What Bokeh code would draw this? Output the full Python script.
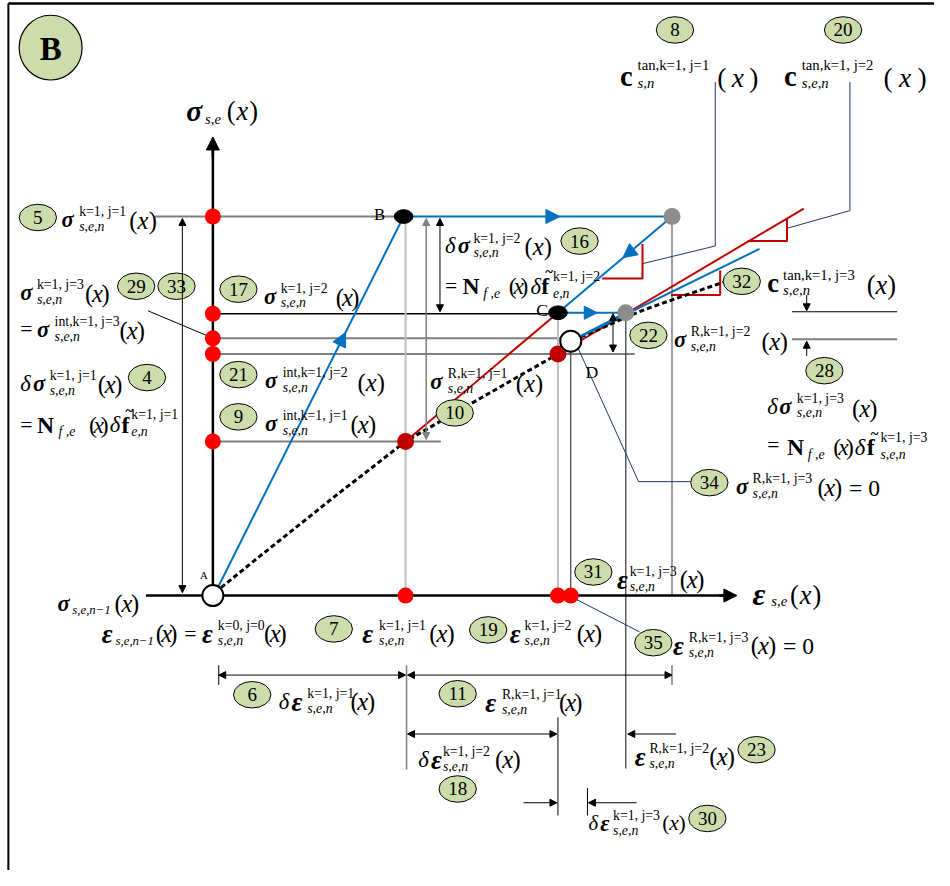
from bokeh.plotting import figure
from bokeh.models import Range1d, Arrow, NormalHead, ColumnDataSource
from bokeh.core.properties import value, field
from bokeh.embed import file_html
from bokeh.resources import INLINE

# ---------------- data (diagram units; y grows downward) ----------------
# material response curve (black dashed)
curve_strain = [218, 260, 300, 340, 380, 412, 450, 490, 530, 567, 580, 620, 637, 660, 700, 735]
curve_stress = [603, 569, 537, 505, 474, 449, 427, 404, 381, 360, 347, 330, 322, 313, 299, 287]
# iteration path A -> B -> G1 -> C -> G2 -> D (blue)
path_strain = [221, 410, 683, 567, 636, 580]
path_stress = [598, 220, 220, 318, 318, 347]
# tangent lines
tan_red_strain = [[412, 567], [567, 817]]
tan_red_stress = [[449, 318], [360, 212]]
tan_blue_strain = [580, 772]
tan_blue_stress = [347, 253]
# stress levels marked on the sigma axis
axis_stress_levels = [220, 319, 344, 360, 449]
# strain levels marked on the eps axis
axis_strain_levels = [412, 567, 580]
# points on curve
curve_pts_strain = [412, 567]
curve_pts_stress = [449, 360]
black_pts_strain = [410, 567]        # B, C
black_pts_stress = [220, 318]
gray_pts_strain = [683, 636]
gray_pts_stress = [220, 318]
open_pts_strain = [216, 580]         # A, D
open_pts_stress = [606, 347]
# numbered callouts
callout_ids = ["5", "29", "33", "17", "4", "21", "9", "10", "16", "22", "32", "28", "34",
               "8", "20", "7", "19", "31", "35", "6", "11", "18", "23", "30"]
callout_x = [38, 138, 179, 242, 149, 242, 242, 462, 589, 659, 754, 838, 721,
             686, 857, 339, 496, 603, 664, 256, 465, 465, 769, 719]
callout_y = [221, 291, 291, 294, 384, 381, 424, 420, 245, 341, 286, 377, 491,
             30, 30, 640, 641, 582, 654, 707, 706, 803, 763, 833]

GREEN = "#cddcab"
BLUE = "#0070c0"
RED = "#c00000"
NAVY = "#1f3864"
GRAY = "#7f7f7f"
LGRAY = "#bfbfbf"
FONT = "Liberation Serif"
SC = 934 / 950.0

p = figure(width=934, height=870, x_range=Range1d(0, 950), y_range=Range1d(886, 0),
           output_backend="svg", toolbar_location=None, min_border=0,
           x_axis_type=None, y_axis_type=None)
p.grid.visible = False
p.outline_line_color = None

def seg(xs, ys, color="black", w=1.0, dash="solid"):
    p.line(xs, ys, line_color=color, line_width=w, line_dash=dash)

def arrow(x0, y0, x1, y1, color="black", size=7, both=False, w=1.0):
    head = lambda: NormalHead(size=size, fill_color=color, line_color=color, line_width=1)
    p.add_layout(Arrow(x_start=x0, y_start=y0, x_end=x1, y_end=y1, end=head(),
                       start=head() if both else None, line_color=color, line_width=w))

# frame
seg([8, 8], [3, 886], "black", 2)
seg([8, 950], [3, 3], "black", 2.5)

# horizontal reference lines
seg([157, 410], [axis_stress_levels[0]] * 2, GRAY, 2)
seg([216, black_pts_strain[1]], [axis_stress_levels[1]] * 2, "black", 1.3)
seg([216, 576], [axis_stress_levels[2]] * 2, GRAY, 2)
seg([216, 645], [axis_stress_levels[3]] * 2, GRAY, 2)
seg([216, 448], [axis_stress_levels[4]] * 2, GRAY, 2)

# vertical reference lines
seg([axis_strain_levels[0]] * 2, [226, 606], LGRAY, 2)
seg([axis_strain_levels[1]] * 2, [324, 606], LGRAY, 2)
seg([axis_strain_levels[2]] * 2, [357, 606], "#404040", 1.2)
seg([gray_pts_strain[1]] * 2, [318, 782], "#333333", 1.2)
seg([gray_pts_strain[0]] * 2, [220, 606], GRAY, 1.5)
seg([gray_pts_strain[0]] * 2, [677, 697], GRAY, 1.5)
seg([413, 413], [677, 783], GRAY, 1.5)
seg([567, 567], [730, 830], "black", 1)
seg([597, 597], [802, 830], "black", 1)
seg([222, 222], [677, 697], "black", 1)

# right-hand small level lines
seg([805, 912], [317, 317], "black", 1)
seg([805, 912], [345, 345], GRAY, 2)

# dimension arrows
arrow(185, 603, 185, 222, both=True)
arrow(433, 447, 433, 222, color=GRAY, both=True, w=1.5)
arrow(447, 317, 447, 222, both=True)
arrow(623, 358, 623, 319, both=True)
arrow(222, 687, 412, 687, both=True)
arrow(414, 687, 683, 687, both=True)
arrow(414, 747, 566, 747, both=True)
arrow(820, 300, 820, 316)
arrow(820, 362, 820, 347)
arrow(532, 817, 566, 817)
arrow(647, 817, 598, 817)
arrow(687, 747, 638, 747)

# axes
seg([216, 216], [606, 150], "black", 2.5)
arrow(216, 160, 216, 139, size=13, w=2.5)
seg([148, 740], [606, 606], "black", 2.5)
arrow(730, 606, 749, 606, size=13, w=2.5)

# leaders
seg([727, 727, 653], [83, 250, 268], NAVY, 1)
seg([864, 864, 800], [83, 214, 232], NAVY, 1)
seg([587, 649, 702], [353, 490, 490], NAVY, 1)
seg([582, 650], [608, 643], NAVY, 1)
seg([150, 214], [316, 343], "black", 1)

# tangent triangles
seg([612, 653, 653], [283, 283, 248], RED, 2)
seg([760, 800, 800], [245, 245, 222], RED, 2)
seg([682, 732, 732], [300, 300, 275], RED, 2)

# curve and paths
for xs, ys in zip(tan_red_strain, tan_red_stress):
    seg(xs, ys, RED, 2)
seg(curve_strain, curve_stress, "black", 3, "5 3")
seg(path_strain, path_stress, BLUE, 2)
seg(tan_blue_strain, tan_blue_stress, BLUE, 2)

# mid-path arrow heads
arrow(345, 350, 351, 338, color=BLUE, size=14, w=2)
arrow(555, 220, 569, 220, color=BLUE, size=14, w=2)
arrow(642, 255, 633, 262, color=BLUE, size=14, w=2)
arrow(596, 318, 607, 318, color=BLUE, size=13, w=2)

# points
p.scatter([216] * len(axis_stress_levels), axis_stress_levels, size=16, fill_color="red", line_color=None)
p.scatter(axis_strain_levels, [606] * len(axis_strain_levels), size=16, fill_color="red", line_color=None)
p.scatter(curve_pts_strain, curve_pts_stress, size=17, fill_color=RED, line_color=None)
p.ellipse(black_pts_strain, black_pts_stress, width=19, height=14, fill_color="black", line_color="black")
p.scatter(gray_pts_strain, gray_pts_stress, size=17, fill_color="#8c8c8c", line_color=None)
p.scatter(open_pts_strain, open_pts_stress, size=21, fill_color="white", line_color="black", line_width=2)

# callouts
p.ellipse(callout_x, callout_y, width=38, height=27, fill_color=GREEN, line_color="black", line_width=1)
p.text(callout_x, callout_y, text=callout_ids, text_font=value(FONT), text_font_size="19px",
       text_align="center", text_baseline="middle", text_color="black")
p.ellipse([51], [48], width=64, height=66, fill_color=GREEN, line_color="black", line_width=1.2)
p.text([51], [49], text=["B"], text_font=value(FONT), text_font_size="33px", text_font_style="bold",
       text_align="center", text_baseline="middle")

# ---------------- math texts ----------------
groups = {"left": {}, "center": {}, "right": {}}
for g in groups.values():
    for k in ("x", "y", "text", "size", "style"):
        g[k] = []

def T(x, y, s, size=22, style="normal", align="left"):
    g = groups[align]
    g["x"].append(x); g["y"].append(y); g["text"].append(s)
    g["size"].append(f"{size * SC:.1f}px"); g["style"].append(style)

def X(x0, x1, y, size=25):
    T(x0 + 1, y, "(", size)
    T((x0 + x1) / 2, y, "x", size, "italic", "center")
    T(x1 - 1, y, ")", size, "normal", "right")

def S(x, y, base, sx, sup=None, sub=None, size=None, style="bold italic", sup_dy=-8, sub_dy=7, ssize=14):
    if size is None:
        size = 27 if base == "ε" else 23
    T(x, y, base, size, style)
    if sup:
        T(sx, y + sup_dy, sup, ssize)
    if sub:
        T(sx, y + sub_dy, sub, ssize, "italic")

def NF(x, y, xs_sub, x0, x1, xd, xf, xsup, sup, sub2, size=23):
    T(x, y, "N", 24, "bold")
    T(xs_sub, y + 7, "f ,e", 14, "italic")
    X(x0, x1, y, 24)
    T(xd, y, "δ", size, "italic")
    T(xf, y, "f", 24, "bold")
    T(xf + 8, y - 14, "~", 15, "bold", "center")
    T(xsup, y - 10, sup, 14)
    T(xsup, y + 7, sub2, 14, "italic")

# axis titles
S(189, 113, "σ", 208, sub="s,e", size=30, sub_dy=8, ssize=15); X(229, 263, 113, 27)
S(765, 605, "ε", 784, sub="s,e", size=32, sub_dy=7, ssize=15); X(802, 836, 605, 27)

S(62, 223, "σ", 80, "k=1, j=1", "s,e,n"); X(130, 160, 224)
S(20, 297, "σ", 37, "k=1, j=3", "s,e,n"); X(85, 112, 298)
T(20, 335, "="); S(37, 335, "σ", 55, "int,k=1, j=3", "s,e,n"); X(120, 148, 336)
T(20, 390, "δ", 23, "italic"); S(33, 390, "σ", 50, "k=1, j=1", "s,e,n"); X(98, 125, 391)
T(20, 432, "="); NF(37, 432, 59, 89, 111, 111, 123, 133, "k=1, j=1", "e,n")
S(268, 301, "σ", 285, "k=1, j=2", "s,e,n"); X(340, 366, 302)
S(269, 387, "σ", 287, "int,k=1, j=2", "s,e,n"); X(362, 392, 389)
S(269, 431, "σ", 287, "int,k=1, j=1", "s,e,n"); X(355, 383, 432)
S(437, 388, "σ", 455, "R,k=1, j=1", "s,e,n"); X(523, 553, 390)
T(452, 250, "δ", 23, "italic"); S(465, 250, "σ", 481, "k=1, j=2", "s,e,n"); X(532, 562, 251)
T(452, 291, "="); NF(470, 291, 491, 516, 538, 539, 550, 562, "k=1, j=2", "e,n")
S(685, 345, "σ", 702, "R,k=1, j=2", "s,e,n"); X(773, 802, 347)
S(780, 288, "c", 796, "tan,k=1, j=3", "s,e,n", size=27, style="bold", ssize=15); X(880, 912, 290, 27)
T(780, 413, "δ", 23, "italic"); S(792, 413, "σ", 810, "k=1, j=3", "s,e,n"); X(865, 893, 415)
T(780, 453, "="); NF(800, 455, 821, 846, 869, 869, 881, 895, "k=1, j=3", "s,e,n")
S(748, 495, "σ", 765, "R,k=1, j=3", "s,e,n"); X(830, 857, 496); T(863, 496, "= 0", 24)
S(630, 77, "c", 648, "tan,k=1, j=1", "s,n", size=29, style="bold", sup_dy=-11, ssize=15); X(728, 772, 78, 28)
S(797, 77, "c", 815, "tan,k=1, j=2", "s,e,n", size=29, style="bold", sup_dy=-11, ssize=15); X(897, 943, 78, 28)
S(58, 614, "σ", 73, None, "s,e,n−1", ssize=13); X(115, 142, 614)
S(103, 645, "ε", 117, None, "s,e,n−1", ssize=13); X(157, 181, 645); T(187, 645, "=")
S(205, 645, "ε", 221, "k=0, j=0", "s,e,n"); X(267, 292, 645)
S(368, 645, "ε", 385, "k=1, j=1", "s,e,n"); X(435, 463, 645)
S(518, 645, "ε", 533, "k=1, j=2", "s,e,n"); X(585, 613, 645)
S(627, 590, "ε", 640, "k=1, j=3", "s,e,n"); X(690, 717, 590)
S(684, 657, "ε", 700, "R,k=1, j=3", "s,e,n"); X(762, 790, 657); T(796, 657, "= 0", 24)
T(283, 714, "δ", 23, "italic"); S(296, 714, "ε", 312, "k=1, j=1", "s,e,n"); X(355, 382, 714)
S(493, 715, "ε", 510, "R,k=1, j=1", "s,e,n"); X(567, 593, 715)
T(425, 773, "δ", 23, "italic"); S(438, 773, "ε", 450, "k=1, j=2", "s,e,n"); X(502, 530, 773)
S(645, 770, "ε", 660, "R,k=1, j=2", "s,e,n"); X(720, 748, 770)
T(598, 838, "δ", 21, "italic"); S(610, 838, "ε", 623, "k=1, j=3", "s,e,n", size=23, ssize=14); X(672, 698, 838, 22)

# point labels
T(203, 585, "A", 11)
T(380, 218, "B", 17)
T(545, 315, "C", 18)
T(595, 378, "D", 18)

for align, g in groups.items():
    if not g["x"]:
        continue
    src = ColumnDataSource(data=g)
    p.text("x", "y", text="text", source=src, text_font=value(FONT), text_font_size=field("size"),
           text_font_style=field("style"), text_align=align, text_baseline="alphabetic",
           text_color="black")

open("out.html", "w").write(file_html(p, INLINE))
